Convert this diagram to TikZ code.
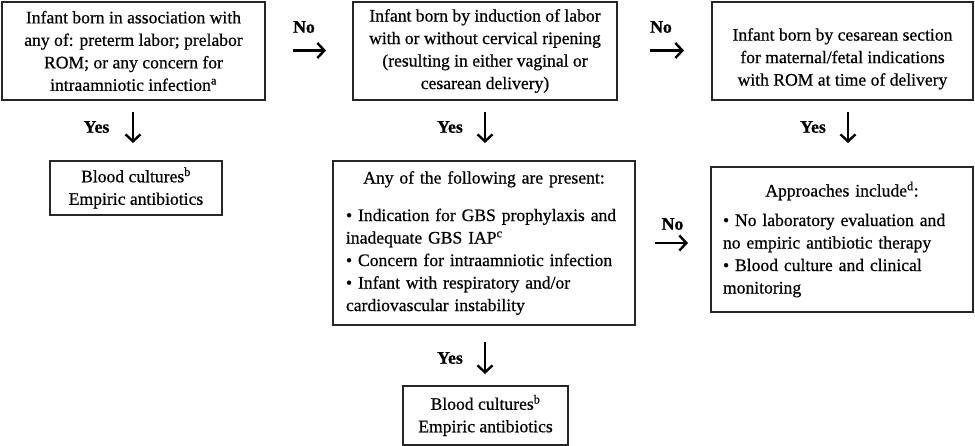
\documentclass[tikz,border=0pt]{standalone}
\usepackage{fontspec}
\setmainfont{Liberation Serif}[FakeBold=0.6]
\usetikzlibrary{arrows.meta}
\tikzset{
  box/.style={draw=black!85, line width=1.5pt, inner sep=0pt, align=center,
    font=\fontsize{17.6}{22.5}\selectfont},
  lbox/.style={draw=black!85, line width=1.5pt, inner ysep=0pt, inner xsep=13pt,
    font=\fontsize{17.6}{22.5}\selectfont},
  lab/.style={font=\fontsize{17.8}{19}\selectfont\bfseries, inner sep=0pt},
  arr/.style={line width=2.6pt, -{Straight Barb[length=7pt,width=15pt,line width=2.4pt]}}
}
\begin{document}
\begin{tikzpicture}[x=1pt,y=-1pt]
\useasboundingbox (0,0) rectangle (975,446);
% top row
\node[box, minimum width=263pt, minimum height=98pt] (b1) at (133.5,51)
  {Infant born in association with\\any of: preterm labor; prelabor\\ROM; or any concern for\\intraamniotic infection\textsuperscript{a}};
\node[box, minimum width=264pt, minimum height=98pt] (b2) at (485,51)
  {Infant born by induction of labor\\with or without cervical ripening\\(resulting in either vaginal or\\cesarean delivery)};
\node[box, minimum width=261pt, minimum height=98pt] (b3) at (842.5,51)
  {\rule{0pt}{28pt}Infant born by cesarean section\\for maternal/fetal indications\\with ROM at time of delivery};
% second row
\node[box, minimum width=172pt, minimum height=54pt] (c1) at (136,188)
  {Blood cultures\textsuperscript{b}\\Empiric antibiotics};
\node[lbox, text width=276pt, minimum height=164pt] (c2) at (484,243)
  {\vspace*{6pt}\centering Any of the following are present:\par\vspace{9pt}
   \raggedright • Indication for GBS prophylaxis and\\inadequate GBS IAP\textsuperscript{c}\\• Concern for intraamniotic infection\\• Infant with respiratory and/or\\cardiovascular instability\par};
\node[lbox, inner xsep=12pt, text width=238pt, minimum height=145pt] (c3) at (842,239.5)
  {\centering Approaches include\textsuperscript{d}:\par\vspace{7pt}
   \raggedright • No laboratory evaluation and\\no empiric antibiotic therapy\\• Blood culture and clinical\\monitoring\par\vspace{18pt}};
% bottom
\node[box, minimum width=165pt, minimum height=59pt] (d2) at (485.5,415.5)
  {Blood cultures\textsuperscript{b}\\Empiric antibiotics};
% arrow coordinates
\coordinate (n1s) at (293,50.5); \coordinate (n1e) at (326,50.5);
\coordinate (n2s) at (650,50.5); \coordinate (n2e) at (684,50.5);
\coordinate (n3s) at (655,243); \coordinate (n3e) at (688,243);
\coordinate (y1s) at (133,112); \coordinate (y1e) at (133,143);
\coordinate (y2s) at (485,112); \coordinate (y2e) at (485,143);
\coordinate (y3s) at (848,112); \coordinate (y3e) at (848,143);
\coordinate (y4s) at (485,342); \coordinate (y4e) at (485,374);
\draw[arr] (n1s) -- (n1e);
\draw[arr] (n2s) -- (n2e);
\draw[arr] (n3s) -- (n3e);
\draw[arr] (y1s) -- (y1e);
\draw[arr] (y2s) -- (y2e);
\draw[arr] (y3s) -- (y3e);
\draw[arr] (y4s) -- (y4e);
% labels
\node[lab] (ln1) at (304,27) {No};
\node[lab] (ln2) at (661,27) {No};
\node[lab] (ln3) at (672.5,224) {No};
\node[lab] (ly1) at (96.5,127) {Yes};
\node[lab] (ly2) at (450,127) {Yes};
\node[lab] (ly3) at (813,127) {Yes};
\node[lab] (ly4) at (450,358) {Yes};
\end{tikzpicture}
\end{document}
